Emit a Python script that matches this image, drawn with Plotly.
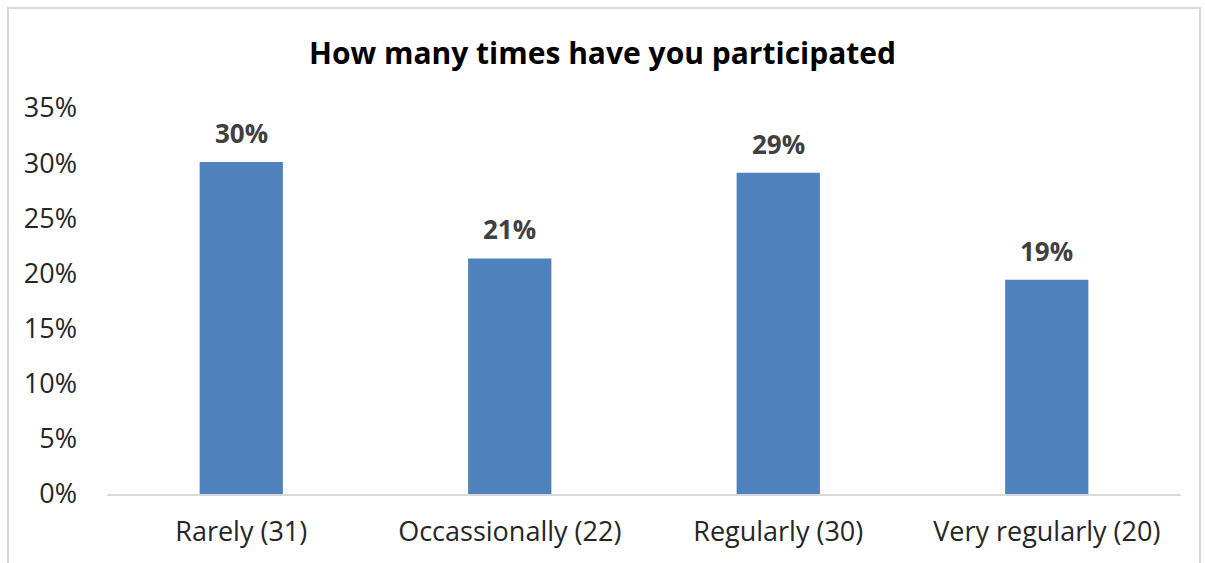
import plotly.graph_objects as go

# Survey responses: how often respondents participated
categories = ["Rarely (31)", "Occassionally (22)", "Regularly (30)", "Very regularly (20)"]
counts = [31, 22, 30, 20]
total = sum(counts)
shares = [c / total for c in counts]
y_ticks = [0, 0.05, 0.10, 0.15, 0.20, 0.25, 0.30, 0.35]

W, H = 1205, 563
L, R, T, B = 107, 24, 108, 69
FONT = "Open Sans"

fig = go.Figure(
    go.Bar(
        x=categories,
        y=shares,
        marker=dict(color="#4f81bd", line=dict(width=0)),
        hoverinfo="skip",
    )
)

# value labels above each bar
for cat, s in zip(categories, shares):
    fig.add_annotation(
        x=cat,
        y=s,
        text=f"<b>{round(s * 100)}%</b>",
        showarrow=False,
        yanchor="bottom",
        yshift=9,
        font=dict(family=FONT, size=26, color="#404040"),
    )

pw = W - L - R
ph = H - T - B

fig.update_layout(
    width=W,
    height=H,
    margin=dict(l=L, r=R, t=T, b=B, pad=0),
    paper_bgcolor="white",
    plot_bgcolor="white",
    bargap=0.69,
    showlegend=False,
    font=dict(family=FONT, size=27, color="#262626"),
    title=dict(
        text="<b>How many times have you participated</b>",
        x=0.5,
        xanchor="center",
        y=1 - 53 / H,
        yanchor="middle",
        font=dict(family=FONT, size=30, color="#000000"),
    ),
    xaxis=dict(
        showgrid=False,
        showline=True,
        linecolor="#d9d9d9",
        linewidth=2,
        ticks="",
        tickfont=dict(family=FONT, size=27, color="#262626"),
        ticklabelstandoff=13,
    ),
    yaxis=dict(
        range=[0, 0.35],
        tickvals=y_ticks,
        tickformat=".0%",
        showgrid=False,
        showline=False,
        zeroline=False,
        ticks="",
        tickfont=dict(family=FONT, size=27, color="#262626"),
        ticklabelstandoff=29,
    ),
    shapes=[
        dict(
            type="rect",
            xref="paper",
            yref="paper",
            x0=(8 - L) / pw,
            x1=(1200 - L) / pw,
            y0=(H - B - 570) / ph,
            y1=(H - B - 8) / ph,
            line=dict(color="#d9d9d9", width=2),
            fillcolor="rgba(0,0,0,0)",
            layer="below",
        )
    ],
)

fig.write_html("out.html")
